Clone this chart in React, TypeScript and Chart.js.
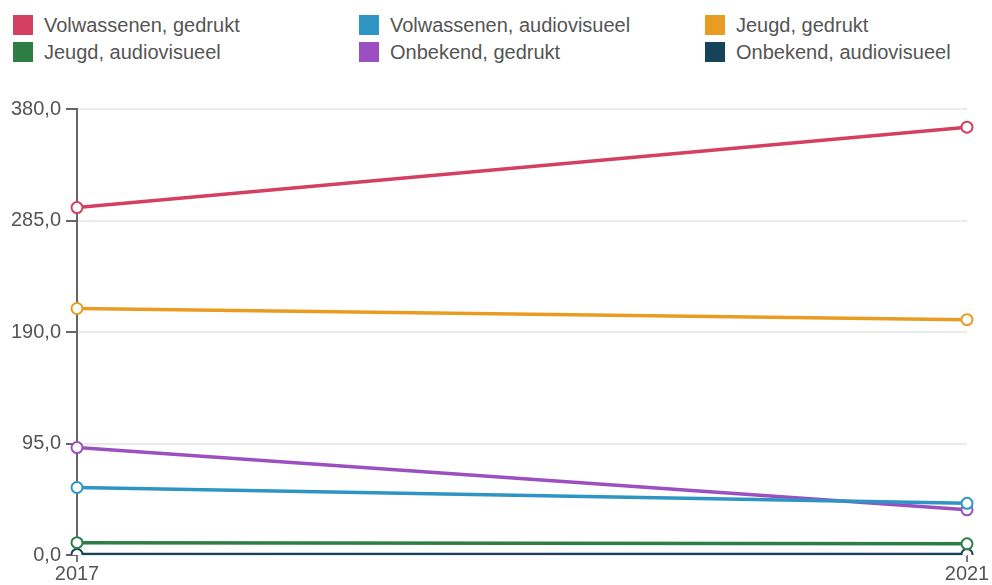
import React, { useEffect, useRef } from "react";
import { Chart, registerables } from "chart.js";

Chart.register(...registerables);

const years = ["2017", "2021"];
const seriesNames = [
  "Volwassenen, gedrukt",
  "Volwassenen, audiovisueel",
  "Jeugd, gedrukt",
  "Jeugd, audiovisueel",
  "Onbekend, gedrukt",
  "Onbekend, audiovisueel",
];
const volwassenenGedrukt = [296, 364.5];
const volwassenenAudiovisueel = [57.5, 44];
const jeugdGedrukt = [210, 200.5];
const jeugdAudiovisueel = [10.5, 9.5];
const onbekendGedrukt = [91.5, 38.5];
const onbekendAudiovisueel = [0.5, 0.5];
const seriesValues = [
  volwassenenGedrukt,
  volwassenenAudiovisueel,
  jeugdGedrukt,
  jeugdAudiovisueel,
  onbekendGedrukt,
  onbekendAudiovisueel,
];
const seriesColors = ["#d4405f", "#2e94c3", "#e99c22", "#2e7d45", "#9b4fc0", "#17435a"];
const yTicks = [0, 95, 190, 285, 380];

const FONT = "'Liberation Sans', Arial, sans-serif";

export default function App() {
  const ref = useRef<HTMLCanvasElement | null>(null);

  useEffect(() => {
    if (!ref.current) return;
    const chart = new Chart(ref.current, {
      type: "line",
      data: {
        labels: years,
        datasets: seriesNames.map((name, i) => ({
          label: name,
          data: seriesValues[i],
          borderColor: seriesColors[i],
          backgroundColor: "#ffffff",
          pointBackgroundColor: "#ffffff",
          pointBorderColor: seriesColors[i],
          borderWidth: 3.5,
          pointRadius: 5.5,
          pointBorderWidth: 2,
          tension: 0,
        })),
      },
      options: {
        animation: false,
        responsive: false,
        maintainAspectRatio: false,
        layout: { padding: { top: 29, right: 25, left: 0, bottom: 0 } },
        plugins: { legend: { display: false }, tooltip: { enabled: false } },
        scales: {
          x: {
            offset: false,
            grid: { drawOnChartArea: false, drawTicks: true, tickLength: 7, color: "#777", lineWidth: 2 },
            border: { display: false },
            ticks: { color: "#555", font: { family: FONT, size: 20 }, padding: 0, maxRotation: 0, autoSkip: false },
            afterFit: (s: any) => {
              s.height = 30;
            },
          },
          y: {
            min: 0,
            max: 380,
            afterBuildTicks: (s: any) => {
              s.ticks = yTicks.map((v) => ({ value: v }));
            },
            grid: { color: "#ebebeb", lineWidth: 2, tickColor: "#666", tickLength: 11, drawTicks: true },
            border: { display: true, color: "#666", width: 2 },
            ticks: {
              color: "#555",
              font: { family: FONT, size: 20 },
              padding: 5,
              callback: (v: any) => Number(v).toFixed(1).replace(".", ","),
            },
            afterFit: (s: any) => {
              s.width = 77;
            },
          },
        },
      },
    });
    return () => chart.destroy();
  }, []);

  return (
    <div style={{ position: "fixed", left: 0, top: 0, width: 992, height: 585, background: "#fff", fontFamily: FONT }}>
      <div style={{ position: "absolute", left: 0, top: 0, width: 992, height: 80 }}>
        {seriesNames.map((name, i) => {
          const col = i % 3;
          const row = Math.floor(i / 3);
          return (
            <div
              key={name}
              style={{
                position: "absolute",
                left: 13 + col * 346,
                top: 15 + row * 27,
                height: 20,
                display: "flex",
                alignItems: "center",
                whiteSpace: "nowrap",
              }}
            >
              <span style={{ display: "inline-block", width: 20, height: 20, background: seriesColors[i] }} />
              <span style={{ marginLeft: 11, fontSize: 20, color: "#555", lineHeight: "20px" }}>{name}</span>
            </div>
          );
        })}
      </div>
      <canvas ref={ref} width={992} height={505} style={{ position: "absolute", left: 0, top: 80, width: 992, height: 505 }} />
    </div>
  );
}
